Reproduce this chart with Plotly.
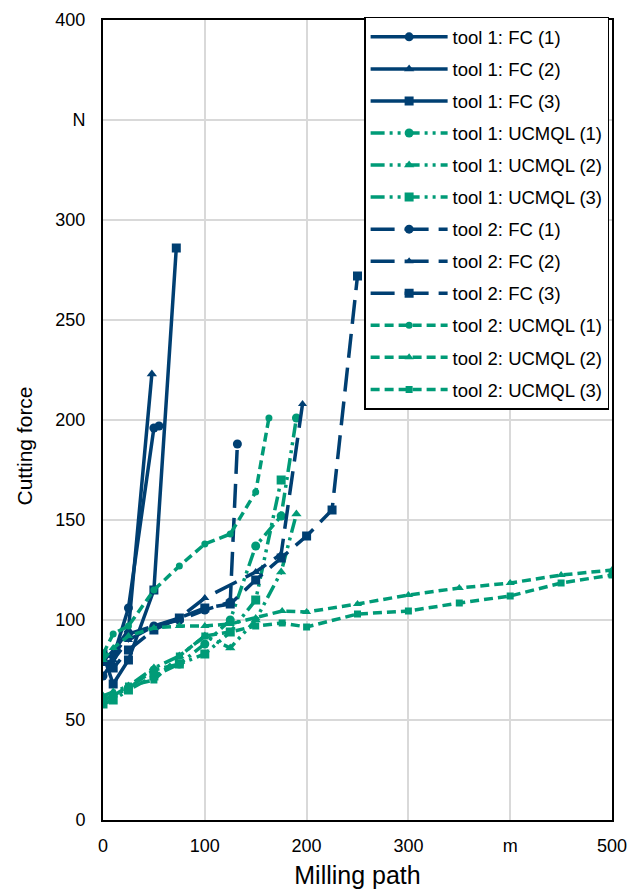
import plotly.graph_objects as go

NAVY = "#003F72"
GREEN = "#009B77"

# ---- data (milling path in m, cutting force in N) ----
t1_fc1_x = [0, 8, 25, 50, 55]
t1_fc1_y = [72, 78, 106, 196, 197]
t1_fc2_x = [0, 10, 25, 48]
t1_fc2_y = [80, 84, 95, 223]
t1_fc3_x = [0, 10, 25, 50, 72]
t1_fc3_y = [83, 68, 80, 115, 286]

t1_uc1_x = [0, 10, 25, 50, 75, 100, 125, 150, 175, 190]
t1_uc1_y = [60, 62, 66, 75, 78, 88, 100, 137, 152, 201]
t1_uc2_x = [0, 10, 25, 50, 75, 100, 125, 150, 175, 190]
t1_uc2_y = [62, 64, 67, 76, 82, 92, 86, 100, 124, 153]
t1_uc3_x = [0, 10, 25, 50, 75, 100, 125, 150, 175]
t1_uc3_y = [58, 60, 65, 72, 78, 83, 94, 110, 170]

t2_fc1_x = [0, 10, 25, 50, 75, 100, 125, 132]
t2_fc1_y = [82, 82, 93, 97, 100, 105, 109, 188]
t2_fc2_x = [0, 10, 25, 50, 75, 100, 150, 175, 196]
t2_fc2_y = [78, 80, 90, 97, 101, 111, 124, 133, 208]
t2_fc3_x = [0, 10, 25, 50, 75, 100, 125, 150, 175, 200, 225, 250]
t2_fc3_y = [80, 76, 85, 95, 101, 106, 108, 120, 131, 142, 155, 272]

t2_uc1_x = [0, 10, 25, 50, 75, 100, 125, 150, 163]
t2_uc1_y = [83, 93, 97, 115, 127, 138, 143, 164, 201]
t2_uc2_x = [0, 10, 25, 50, 75, 100, 125, 150, 176, 200, 250, 300, 350, 400, 450, 500]
t2_uc2_y = [80, 86, 92, 96, 97, 97, 98, 101, 104.5, 104, 108, 112.5, 116, 118.5, 122.5, 125]
t2_uc3_x = [0, 10, 25, 50, 75, 100, 125, 150, 176, 200, 250, 300, 350, 400, 450, 500]
t2_uc3_y = [60, 62, 67, 70, 82, 92, 94, 97, 98.5, 96.5, 103, 104.5, 108.5, 112, 118.5, 122.5]

x_tick_vals = [0, 100, 200, 300, 400, 500]
x_tick_text = ["0", "100", "200", "300", "m", "500"]
y_tick_vals = [0, 50, 100, 150, 200, 250, 300, 350, 400]
y_tick_text = ["0", "50", "100", "150", "200", "250", "300", "N", "400"]

DASH_T1_UC = "14px,5px,3px,5px,3px,5px"
DASH_T2_FC = "24px,10px"
DASH_T2_UC = "9px,5px"

series = [
    ("tool 1: FC (1)", t1_fc1_x, t1_fc1_y, NAVY, "solid", "circle", 9),
    ("tool 1: FC (2)", t1_fc2_x, t1_fc2_y, NAVY, "solid", "triangle-up", 9),
    ("tool 1: FC (3)", t1_fc3_x, t1_fc3_y, NAVY, "solid", "square", 9),
    ("tool 1: UCMQL (1)", t1_uc1_x, t1_uc1_y, GREEN, DASH_T1_UC, "circle", 9),
    ("tool 1: UCMQL (2)", t1_uc2_x, t1_uc2_y, GREEN, DASH_T1_UC, "triangle-up", 9),
    ("tool 1: UCMQL (3)", t1_uc3_x, t1_uc3_y, GREEN, DASH_T1_UC, "square", 9),
    ("tool 2: FC (1)", t2_fc1_x, t2_fc1_y, NAVY, DASH_T2_FC, "circle", 9),
    ("tool 2: FC (2)", t2_fc2_x, t2_fc2_y, NAVY, DASH_T2_FC, "triangle-up", 8),
    ("tool 2: FC (3)", t2_fc3_x, t2_fc3_y, NAVY, DASH_T2_FC, "square", 9),
    ("tool 2: UCMQL (1)", t2_uc1_x, t2_uc1_y, GREEN, DASH_T2_UC, "circle", 7),
    ("tool 2: UCMQL (2)", t2_uc2_x, t2_uc2_y, GREEN, DASH_T2_UC, "triangle-up", 8),
    ("tool 2: UCMQL (3)", t2_uc3_x, t2_uc3_y, GREEN, DASH_T2_UC, "square", 7),
]

fig = go.Figure()
for i, (name, xs, ys, col, dash, sym, sz) in enumerate(series):
    fig.add_trace(go.Scatter(
        x=xs, y=ys, name=name, mode="lines+markers",
        legendgroup="g%d" % i,
        line=dict(color=col, width=3.5, dash=dash),
        marker=dict(symbol=sym, size=sz, color=col),
    ))

FONT = "Liberation Sans, Arial, sans-serif"
fig.update_layout(
    width=630, height=889,
    paper_bgcolor="white", plot_bgcolor="white",
    margin=dict(l=103, r=18, t=20, b=69, autoexpand=False),
    font=dict(family=FONT, size=18, color="black"),
    showlegend=True,
    legend=dict(
        x=0.513, y=1.004, xanchor="left", yanchor="top",
        bgcolor="white", bordercolor="black", borderwidth=1.5,
        font=dict(family=FONT, size=18.5, color="black"),
        traceorder="grouped", tracegroupgap=5,
        itemwidth=77,
    ),
    xaxis=dict(
        range=[0, 500], tickvals=x_tick_vals, ticktext=x_tick_text,
        showgrid=True, gridcolor="#D9D9D9", gridwidth=2,
        showline=True, linecolor="black", linewidth=2, mirror=True,
        ticks="", zeroline=False, automargin=False, ticklabelstandoff=8,
        title=dict(text="Milling path", font=dict(size=25), standoff=21),
    ),
    yaxis=dict(
        range=[0, 400], tickvals=y_tick_vals, ticktext=y_tick_text,
        showgrid=True, gridcolor="#D9D9D9", gridwidth=2,
        showline=True, linecolor="black", linewidth=2, mirror=True,
        ticks="", zeroline=False, automargin=False, ticklabelstandoff=12,
    ),
    annotations=[dict(
        text="Cutting force", textangle=-90, showarrow=False,
        xref="paper", yref="paper", x=-0.155, y=0.467,
        xanchor="center", yanchor="middle",
        font=dict(family=FONT, size=21, color="black"),
    )],
)

fig.write_html("out.html",
               config={"displayModeBar": False},
               post_script="document.body.style.margin='0';document.body.style.overflow='hidden';")
